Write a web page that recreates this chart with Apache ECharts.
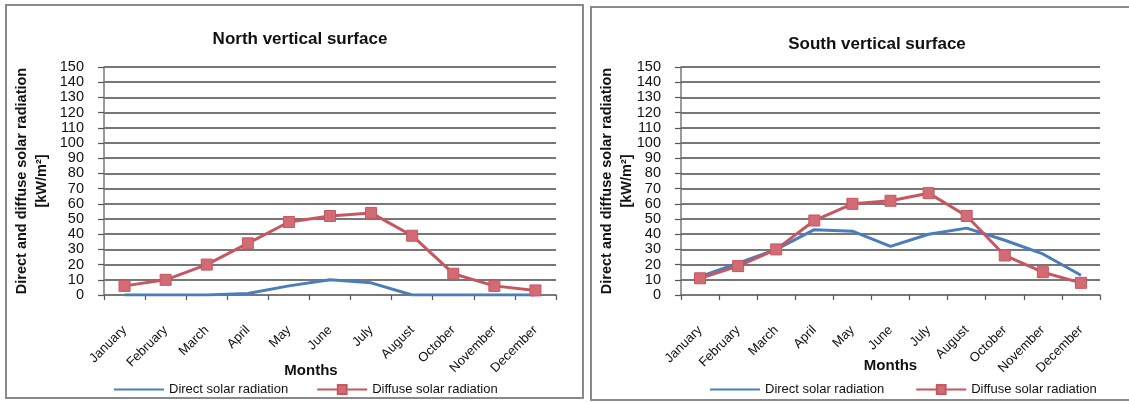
<!DOCTYPE html>
<html>
<head>
<meta charset="utf-8">
<script src="https://cdn.jsdelivr.net/npm/echarts@6/dist/echarts.min.js"></script>
<style>
  html, body { margin: 0; padding: 0; background: #fff; }
  #chart { width: 1129px; height: 403px; }
</style>
</head>
<body>
<div id="chart"></div>
<script>
// Monthly solar radiation on vertical surfaces [kW/m²]
const months = ['January', 'February', 'March', 'April', 'May', 'June', 'July', 'August', 'October', 'November', 'December'];
const yTicks = { min: 0, max: 150, step: 10 };

const northDirect  = [0, 0, 0, 1, 6, 10, 8, 0, 0, 0, 0];
const northDiffuse = [6, 10, 20, 34, 48, 52, 54, 39, 14, 6, 3];

const southDirect  = [12, 21, 30, 43, 42, 32, 40, 44, 36, 27, 13];
const southDiffuse = [11, 19, 30, 49, 60, 62, 67, 52, 26, 15, 8];

const panelTitles = ['North vertical surface', 'South vertical surface'];
const seriesNames = ['Direct solar radiation', 'Diffuse solar radiation'];
const xName = 'Months';
const yName = 'Direct and diffuse solar radiation\n[kW/m²]';

const FONT = '"Liberation Sans", Arial, sans-serif';
const BLUE = '#4a7ebb';
const RED = '#c65660';
const RED_FILL = '#d36b74';
const TEXT = '#111';

const grids = [
  { left: 104, top: 67, width: 452, height: 228 },
  { left: 681, top: 67, width: 419, height: 228 }
];

function xAxisFor(i, nameGap, shift) {
  return {
    type: 'category', gridIndex: i, data: months, boundaryGap: true,
    axisLine: { lineStyle: { color: '#7a7a7a', width: 1.5 } },
    axisTick: { show: true, length: 5, alignWithLabel: false, lineStyle: { color: '#555', width: 1.2 } },
    axisLabel: { rotate: 45, margin: 33, interval: 0, color: TEXT, fontFamily: FONT, fontSize: 13 },
    name: xName, nameLocation: 'middle', nameGap: nameGap, nameMoveOverlap: false,
    nameTextStyle: { fontFamily: FONT, fontWeight: 'bold', fontSize: 15, color: TEXT, padding: [0, shift, 0, 0] }
  };
}

function yAxisFor(i, nameGap) {
  return {
    type: 'value', gridIndex: i, min: yTicks.min, max: yTicks.max, interval: yTicks.step,
    axisLine: { show: true, lineStyle: { color: '#7a7a7a', width: 1.5 } },
    axisTick: { show: true, length: 6, lineStyle: { color: '#555', width: 1.2 } },
    axisLabel: { margin: 20, color: TEXT, fontFamily: FONT, fontSize: 14.5, showMinLabel: true, showMaxLabel: true, hideOverlap: false },
    splitLine: { show: true, lineStyle: { color: '#4a4a4a', width: 1.6 } },
    name: yName, nameLocation: 'middle', nameRotate: 90, nameGap: nameGap, nameMoveOverlap: false,
    nameTextStyle: { fontFamily: FONT, fontWeight: 'bold', fontSize: 14.5, lineHeight: 20, color: TEXT, align: 'center' }
  };
}

function directSeries(i, data) {
  return {
    name: seriesNames[0], type: 'line', xAxisIndex: i, yAxisIndex: i, data: data,
    symbol: 'none', lineStyle: { color: BLUE, width: 3 }, itemStyle: { color: BLUE },
    z: 3
  };
}
function diffuseSeries(i, data) {
  return {
    name: seriesNames[1], type: 'line', xAxisIndex: i, yAxisIndex: i, data: data,
    symbol: 'rect', symbolSize: 11,
    lineStyle: { color: RED, width: 3 },
    itemStyle: { color: RED_FILL, borderColor: RED, borderWidth: 1 },
    z: 4
  };
}

function legendFor(i, left, gap) {
  return {
    left: left, top: 378, itemWidth: 50, itemHeight: 11, itemGap: gap,
    data: [
      { name: seriesNames[0], itemStyle: { opacity: 0 } },
      { name: seriesNames[1] }
    ],
    textStyle: { fontFamily: FONT, fontSize: 13, color: TEXT },
    selectedMode: false
  };
}

const chart = echarts.init(document.getElementById('chart'), null, { renderer: 'canvas' });
chart.setOption({
  backgroundColor: '#fff',
  animation: false,
  title: [
    { text: panelTitles[0], left: 295, top: 26, textAlign: 'center',
      textStyle: { fontFamily: FONT, fontWeight: 'bold', fontSize: 17, color: TEXT } },
    { text: panelTitles[1], left: 872, top: 31, textAlign: 'center',
      textStyle: { fontFamily: FONT, fontWeight: 'bold', fontSize: 17, color: TEXT } }
  ],
  legend: [legendFor(0, 108, 28), legendFor(1, 704, 31)],
  grid: grids,
  xAxis: [xAxisFor(0, 68, 38), xAxisFor(1, 63, 0)],
  yAxis: [yAxisFor(0, 52), yAxisFor(1, 44)],
  series: [
    directSeries(0, northDirect), diffuseSeries(0, northDiffuse),
    directSeries(1, southDirect), diffuseSeries(1, southDiffuse)
  ],
  graphic: [
    { type: 'rect', shape: { x: 6, y: 5, width: 577, height: 393 },
      style: { fill: 'none', stroke: '#8a8a8a', lineWidth: 2 }, silent: true },
    { type: 'rect', shape: { x: 591, y: 7, width: 560, height: 393 },
      style: { fill: 'none', stroke: '#8a8a8a', lineWidth: 2 }, silent: true }
  ]
});
</script>
</body>
</html>
